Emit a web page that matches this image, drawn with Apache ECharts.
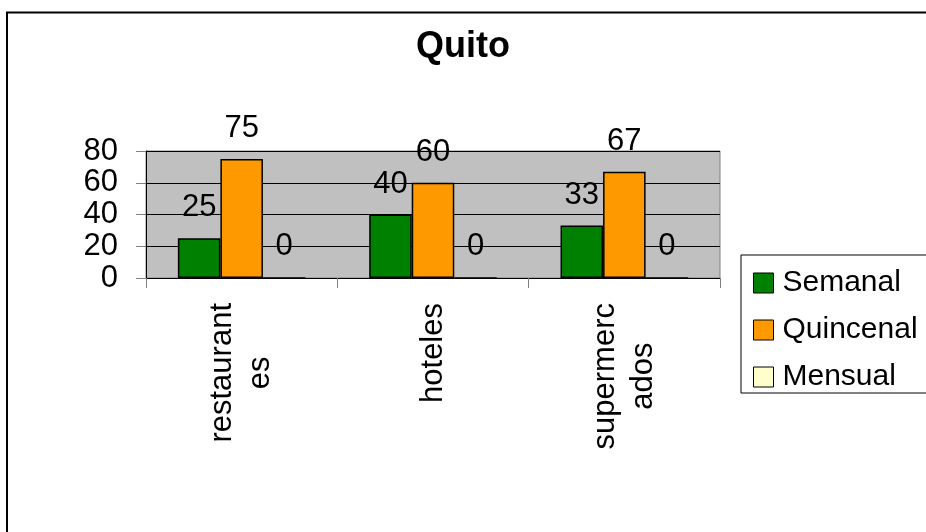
<!DOCTYPE html>
<html>
<head>
<meta charset="utf-8">
<script src="https://cdn.jsdelivr.net/npm/echarts@6/dist/echarts.min.js"></script>
<style>
html,body{margin:0;padding:0;background:#fff;}
#main{width:926px;height:532px;}
</style>
</head>
<body>
<div id="main"></div>
<script>
var titleText = 'Quito';
var categories = ['restaurantes', 'hoteles', 'supermercados'];
var categoryLabels = [['restaurant', 'es'], ['hoteles'], ['supermerc', 'ados']];
var seriesNames = ['Semanal', 'Quincenal', 'Mensual'];
var semanal = [25, 40, 33];
var quincenal = [75, 60, 67];
var mensual = [0, 0, 0];
var yTicks = [0, 20, 40, 60, 80];

var FONT = '"Liberation Sans", Arial, sans-serif';
var colors = ['#008000', '#FF9900', '#FFFFCC'];
var seriesData = [semanal, quincenal, mensual];

var chart = echarts.init(document.getElementById('main'));
var series = seriesNames.map(function (name, i) {
  return {
    name: name,
    type: 'bar',
    data: seriesData[i],
    barGap: '0%',
    barCategoryGap: '33.3%',
    itemStyle: { color: colors[i], borderColor: '#000', borderWidth: 1.5 },
    label: {
      show: true, position: 'top', distance: 15,
      color: '#000', fontSize: 31, fontFamily: FONT
    }
  };
});

chart.setOption({
  animation: false,
  backgroundColor: '#fff',
  title: {
    text: titleText, left: 'center', top: 29, padding: 0,
    textStyle: { fontSize: 36, fontWeight: 'bold', color: '#000', fontFamily: FONT }
  },
  legend: {
    orient: 'vertical', left: 741, top: 255,
    padding: [13, 40, 1, 12],
    itemGap: 17, itemWidth: 20, itemHeight: 20,
    icon: 'rect',
    borderColor: '#000', borderWidth: 1,
    textStyle: { fontSize: 30, color: '#000', fontFamily: FONT, padding: [0, 0, 0, 4] },
    itemStyle: { borderColor: '#000', borderWidth: 1 },
    data: seriesNames
  },
  grid: {
    left: 146, top: 151, right: 206, bottom: 254,
    show: true, backgroundColor: '#C0C0C0', borderColor: '#808080', borderWidth: 1
  },
  xAxis: {
    type: 'category',
    data: categories,
    axisLine: { lineStyle: { color: '#000', width: 1 } },
    axisTick: { show: true, length: 10, lineStyle: { color: '#808080' } },
    axisLabel: {
      rotate: 90, margin: 25, color: '#000', fontSize: 31, fontFamily: FONT,
      formatter: function (v, idx) {
        return categoryLabels[idx].map(function (s) { return '{a|' + s + '}'; }).join('\n');
      },
      rich: { a: { align: 'center', fontSize: 31, fontFamily: FONT, color: '#000', lineHeight: 38 } }
    }
  },
  yAxis: {
    type: 'value', min: yTicks[0], max: yTicks[yTicks.length - 1], interval: yTicks[1] - yTicks[0],
    axisLine: { show: true, lineStyle: { color: '#000', width: 1 } },
    axisTick: { show: true, length: 10, lineStyle: { color: '#808080' } },
    axisLabel: { margin: 28, color: '#000', fontSize: 31, fontFamily: FONT },
    splitLine: { show: true, lineStyle: { color: '#000', width: 1 } }
  },
  graphic: [{
    type: 'rect', z: 100,
    shape: { x: 7, y: 12.5, width: 1000, height: 600 },
    style: { fill: 'none', stroke: '#000', lineWidth: 2 }
  }],
  series: series
});
</script>
</body>
</html>
